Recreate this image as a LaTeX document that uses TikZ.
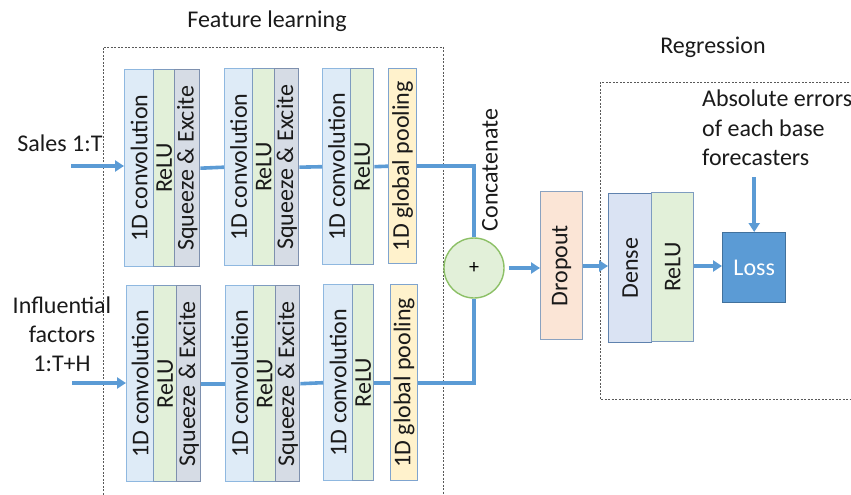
\documentclass[tikz,border=0pt]{standalone}
\usepackage{fontspec}
\setmainfont{Carlito}
\usetikzlibrary{arrows.meta,calc}
\definecolor{convfill}{HTML}{DEEBF7}
\definecolor{convdraw}{HTML}{8FB8E0}
\definecolor{relufill}{HTML}{E2F0D9}
\definecolor{reludraw}{HTML}{7E9CC0}
\definecolor{sefill}{HTML}{D6DCE5}
\definecolor{sedraw}{HTML}{7E90AE}
\definecolor{poolfill}{HTML}{FFF2CC}
\definecolor{pooldraw}{HTML}{7FA4CF}
\definecolor{dropfill}{HTML}{FBE5D6}
\definecolor{dropdraw}{HTML}{8AA2C0}
\definecolor{densefill}{HTML}{DAE3F3}
\definecolor{densedraw}{HTML}{5F82AE}
\definecolor{lossfill}{HTML}{5B9BD5}
\definecolor{lossdraw}{HTML}{41719C}
\definecolor{circfill}{HTML}{E2F0D9}
\definecolor{circdraw}{HTML}{8CC066}
\definecolor{flow}{HTML}{5B9BD5}
\definecolor{txt}{HTML}{1A1A1A}
\tikzset{
  blk/.style={rectangle, inner sep=0pt, line width=1.4pt, anchor=north west, text=txt,
    font=\fontsize{24}{29}\selectfont},
  conv/.style={blk, fill=convfill, draw=convdraw},
  relu/.style={blk, fill=relufill, draw=reludraw},
  sqex/.style={blk, fill=sefill, draw=sedraw},
  pool/.style={blk, fill=poolfill, draw=pooldraw},
  drop/.style={blk, fill=dropfill, draw=dropdraw},
  dens/.style={blk, fill=densefill, draw=densedraw},
  lossbox/.style={blk, fill=lossfill, draw=lossdraw, text=white},
  lbl/.style={font=\fontsize{24}{29}\selectfont, text=txt, inner sep=0pt},
  wire/.style={draw=flow, line width=3.6pt},
  arr/.style={wire, -{Triangle[length=9pt,width=11pt]}},
  frame/.style={draw=black!65, line width=0.8pt, dash pattern=on 2pt off 1.5pt},
}
\begin{document}
\begin{tikzpicture}[x=1pt,y=-1pt]
\useasboundingbox (0,0) rectangle (851,495);
\clip (0,0) rectangle (851,495);
% frames
\draw[frame] (103,505) -- (103,47) -- (443,47) -- (443,505);
\draw[frame] (870,82) -- (600,82) -- (600,399) -- (870,399);
\node[lbl] (tfeat) at (267,21) {Feature learning};
\node[lbl] (treg) at (713,47) {Regression};
% top row
\node[conv, minimum width=29pt, minimum height=197pt] (c1) at (124,69) {\rotatebox{90}{1D convolution}};
\node[relu, minimum width=21pt, minimum height=197pt] (r1) at (153,69) {\rotatebox{90}{ReLU}};
\node[sqex, minimum width=25pt, minimum height=197pt] (s1) at (174,69) {\rotatebox{90}{Squeeze \& Excite}};
\node[conv, minimum width=28pt, minimum height=197pt] (c2) at (224,68) {\rotatebox{90}{1D convolution}};
\node[relu, minimum width=22pt, minimum height=197pt] (r2) at (252,68) {\rotatebox{90}{ReLU}};
\node[sqex, minimum width=24pt, minimum height=197pt] (s2) at (274,68) {\rotatebox{90}{Squeeze \& Excite}};
\node[conv, minimum width=28pt, minimum height=196pt] (c3) at (322,68) {\rotatebox{90}{1D convolution}};
\node[relu, minimum width=23pt, minimum height=196pt] (r3) at (350,68) {\rotatebox{90}{ReLU}};
\node[pool, minimum width=28pt, minimum height=195pt] (p1) at (388,68) {\rotatebox{90}{1D global pooling}};
% bottom row
\node[conv, minimum width=27pt, minimum height=196pt] (bc1) at (126,285) {\rotatebox{90}{1D convolution}};
\node[relu, minimum width=23pt, minimum height=196pt] (br1) at (153,285) {\rotatebox{90}{ReLU}};
\node[sqex, minimum width=24pt, minimum height=196pt] (bs1) at (176,285) {\rotatebox{90}{Squeeze \& Excite}};
\node[conv, minimum width=28pt, minimum height=196pt] (bc2) at (225,285) {\rotatebox{90}{1D convolution}};
\node[relu, minimum width=22pt, minimum height=196pt] (br2) at (253,285) {\rotatebox{90}{ReLU}};
\node[sqex, minimum width=24pt, minimum height=196pt] (bs2) at (275,285) {\rotatebox{90}{Squeeze \& Excite}};
\node[conv, minimum width=29pt, minimum height=196pt] (bc3) at (323,284) {\rotatebox{90}{1D convolution}};
\node[relu, minimum width=21pt, minimum height=196pt] (br3) at (352,284) {\rotatebox{90}{ReLU}};
\node[pool, minimum width=27pt, minimum height=196pt] (bp1) at (390,284) {\rotatebox{90}{1D global pooling}};
% inputs
\node[lbl] (tsales) at (60,143) {Sales 1:T};
\node[lbl, align=center, font=\fontsize{24}{29}\selectfont] (tinf) at (62,334) {Influential\\factors\\1:T+H};
\coordinate (in1) at (71,166);
\coordinate (in2) at (72,383);
% concatenate
\node[circle, draw=circdraw, fill=circfill, line width=1.4pt, minimum size=60pt, inner sep=0pt,
  font=\fontsize{20}{24}\selectfont] (plus) at (474,268) {+};
\node[lbl, rotate=90] (tcat) at (490,170) {Concatenate};
% regression
\node[drop, minimum width=42pt, minimum height=148pt] (drop) at (540,191) {\rotatebox{90}{Dropout}};
\node[dens, minimum width=43pt, minimum height=149pt] (dense) at (608,193) {\rotatebox{90}{Dense}};
\node[relu, minimum width=42pt, minimum height=149pt] (r4) at (651,192) {\rotatebox{90}{ReLU}};
\node[lossbox, minimum width=63pt, minimum height=70pt] (loss) at (722,232) {Loss};
\node[lbl, align=left, anchor=north west, font=\fontsize{24}{29.5}\selectfont] (tabs) at (702,90) {Absolute errors\\of each base\\forecasters};
% connectors
\draw[arr] (in1) -- (c1.west |- in1);
\draw[wire] (s1.east) -- (c2.west);
\draw[wire] (s2.east) -- (c3.west);
\draw[wire] (r3.east) -- (p1.west);
\draw[wire] (p1.east) -| (plus.north);
\draw[arr] (in2) -- (bc1.west |- in2);
\draw[wire] (bs1.east) -- (bc2.west);
\draw[wire] (bs2.east) -- (bc3.west);
\draw[wire] (br3.east) -- (bp1.west);
\draw[wire] (bp1.east) -| (plus.south);
\draw[arr, shorten <=4pt] (plus.east) -- (drop.west |- plus.east);
\draw[arr] (drop.east |- 0,266) -- (dense.west |- 0,266);
\draw[arr] (r4.east |- 0,266) -- (loss.west |- 0,266);
\draw[arr] (loss.north |- 0,177) -- (loss.north);
\end{tikzpicture}
\end{document}
